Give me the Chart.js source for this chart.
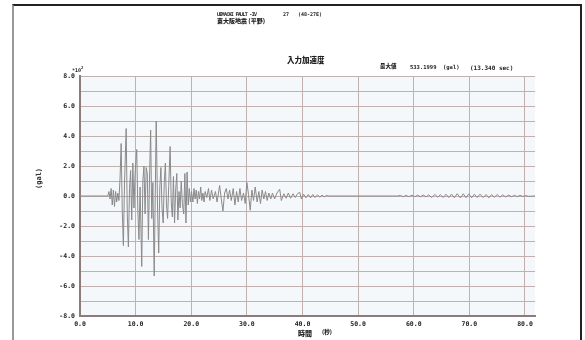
<!DOCTYPE html>
<html>
<head>
<meta charset="utf-8">
<script src="https://cdn.jsdelivr.net/npm/chart.js@4.4.1/dist/chart.umd.min.js"></script>
<style>
  html, body { margin: 0; padding: 0; background: #fff; }
  #wrap { position: relative; width: 585px; height: 340px; overflow: hidden; }
  #frame { position: absolute; left: 12px; top: 4px; width: 566px; height: 340px;
           border-top: 2px solid #222; border-left: 2px solid #999; border-right: 2px solid #222; }
  canvas { position: absolute; left: 0; top: 0; }
  .t { position: absolute; font-family: "DejaVu Sans Mono", "Liberation Mono", monospace;
       font-weight: bold; color: #222; white-space: pre; line-height: 1; }
  .cjk { font-family: "Noto Sans CJK JP", sans-serif; font-weight: 900; }
</style>
</head>
<body>
<div id="wrap">
  <div id="frame"></div>
  <canvas id="chart" width="585" height="340"></canvas>
  <div class="t" style="left:217px; top:12px; font-size:5px; letter-spacing:-0.7px;">UEMACHI FAULT -IV</div>
  <div class="t" style="left:283px; top:12px; font-size:5px;">27</div>
  <div class="t" style="left:298px; top:12px; font-size:5px;">(48-27E)</div>
  <div class="t cjk" style="left:217px; top:18px; font-size:6px;">東大阪地震 (平野)</div>
  <div class="t cjk" style="left:287px; top:56px; font-size:7.5px;">入力加速度</div>
  <div class="t cjk" style="left:380px; top:64px; font-size:5.5px;">最大値</div>
  <div class="t" style="left:410px; top:65px; font-size:5.5px;">533.1999</div>
  <div class="t" style="left:443px; top:65px; font-size:5.5px;">(gal)</div>
  <div class="t" style="left:470px; top:65px; font-size:6px;">(13.340 sec)</div>
  <div class="t" style="left:72px; top:66px; font-size:5px;">*10<sup style="font-size:4px">2</sup></div>
  <div class="t" style="left:29px; top:175px; font-size:7px; transform:rotate(-90deg);">(gal)</div>
  <div class="t cjk" style="left:298px; top:330px; font-size:7px;">時間</div>
  <div class="t cjk" style="left:322px; top:330px; font-size:5.5px;">(秒)</div>
</div>
<script>
// input acceleration, x10^2 gal
const timeSec = [
  0, 5.0, 5.2, 5.4, 5.6, 5.8, 6.0, 6.2, 6.4, 6.6, 6.8, 7.0,
  7.2, 7.4, 7.6, 7.8, 8.0, 8.3, 8.5, 8.7, 8.9, 9.1, 9.3, 9.5, 9.7, 9.9,
  10.2, 10.4, 10.6, 10.8, 11.1, 11.3, 11.5, 11.7, 11.9, 12.1, 12.3, 12.5, 12.7, 12.9,
  13.1, 13.34, 13.7, 13.95, 14.15, 14.35, 14.55, 14.75, 14.95, 15.15, 15.35, 15.55, 15.75, 15.95,
  16.2, 16.4, 16.6, 16.8, 17.0, 17.2, 17.4, 17.6, 17.8, 18.0, 18.2, 18.4, 18.65, 18.85,
  19.05, 19.25, 19.45, 19.65, 19.85, 20.05, 20.3, 20.5, 20.7, 20.9, 21.1, 21.3, 21.5, 21.7,
  21.9, 22.1, 22.3, 22.5, 22.8, 23.1, 23.35, 23.65, 23.95, 24.35, 24.65, 25.1, 25.4, 25.7,
  26.0, 26.3, 26.6, 26.9, 27.2, 27.55, 27.85, 28.15, 28.45, 28.75, 29.05, 29.4, 29.7, 30.0,
  30.3, 30.6, 30.9, 31.2, 31.5, 31.85, 32.15, 32.45, 32.75, 33.05, 33.35, 33.65, 33.95, 34.3,
  34.6, 35.0, 35.4, 35.9, 36.2, 36.65, 37.05, 37.45, 37.85, 38.3, 38.7, 39.1, 39.5, 39.8,
  40.2, 40.6, 41.05, 41.45, 41.85, 42.25, 42.7, 43.1, 43.5, 43.9, 44.3, 44.7, 57.1,
  57.6, 58.1, 58.6, 59.1, 59.7, 60.2, 60.7, 61.2, 61.7, 62.2, 62.7, 63.2, 63.8, 64.3,
  64.8, 65.3, 65.8, 66.3, 66.8, 67.3, 67.8, 68.4, 68.9, 69.4, 69.9, 70.4, 70.9, 71.4,
  71.9, 72.5, 73.0, 73.5, 74.0, 74.5, 75.0, 75.5, 76.0, 76.5, 77.1, 77.6, 78.1, 78.6,
  79.1, 79.6, 80.1, 80.6, 81.8
];
const accel = [
  0, 0, 0.3, -0.2, 0.5, -0.6, 0.4, -0.7, 0.3, -0.4, 0.2, -0.3,
  1.2, 3.5, -1.0, -3.3, 0.8, 4.5, -1.2, -3.4, 0.5, 1.7, -1.6, 2.2, -0.8, 1.5,
  3.1, -1.0, -2.9, 0.6, -4.7, 1.0, 2.0, -1.2, 1.9, 1.5, -2.9, 1.2, 4.4, -1.5,
  0.9, -5.33, 5.0, -1.0, -3.8, 0.6, 1.9, -0.8, -1.8, 0.9, 2.2, -0.6, -1.5, 0.7,
  3.3, -0.4, -1.4, 1.3, -1.8, 0.4, 1.5, -1.6, 0.3, -0.8, 1.0, -0.5, -1.2, 1.5,
  -1.8, 1.6, -0.6, 0.5, -0.4, 0.3, -0.4, 0.5, -0.2, 0.4, -0.5, 0.3, -0.2, 0.6,
  -0.3, 0.2, -0.4, 0.3, -0.1, 0.5, -0.3, 0.4, -0.2, 0.3, -0.4, 0.7, -0.2, -1.0,
  0.2, 0.5, -0.2, 0.4, -0.3, 0.5, -0.6, 0.3, -0.4, 0.5, -0.3, 0.2, -0.5, 0.9,
  0.1, -0.95, 0.4, -0.3, 0.6, -0.4, 0.3, -0.5, 0.4, -0.2, 0.3, -0.3, 0.2, -0.2,
  0.2, -0.2, 0.2, 0.45, -0.3, 0.15, -0.15, 0.2, -0.15, 0.15, -0.1, 0.15, 0.25, -0.2,
  0.12, -0.12, 0.1, -0.12, 0.1, -0.1, 0.08, -0.08, 0.06, -0.06, 0.04, 0, 0,
  0.04, -0.05, 0.04, -0.04, 0.05, -0.05, 0.06, -0.05, 0.07, -0.06, 0.08, -0.1, 0.1, -0.08,
  0.09, -0.1, 0.12, -0.1, 0.13, -0.12, 0.15, -0.13, 0.15, -0.12, 0.14, -0.12, 0.12, -0.1,
  0.12, -0.1, 0.1, -0.12, 0.1, -0.08, 0.1, -0.08, 0.08, -0.06, 0.06, -0.05, 0.05, -0.04,
  0.04, -0.03, 0.03, -0.02, 0
];
const xTicks = [0, 10, 20, 30, 40, 50, 60, 70, 80];

const TICK_FONT = { family: "'DejaVu Sans Mono', 'Liberation Mono', monospace", size: 6.5, weight: 'bold' };
const GRID = '#c2b0b0';
const AXIS = '#8c7c7c';

// light tint behind the plot area
const plotBg = {
  id: 'plotBg',
  beforeDraw(chart) {
    const { ctx, chartArea: a } = chart;
    ctx.save();
    ctx.fillStyle = '#f5f8fb';
    ctx.fillRect(a.left, a.top, a.right - a.left, a.bottom - a.top);
    ctx.restore();
  }
};

new Chart(document.getElementById('chart'), {
  type: 'line',
  data: {
    datasets: [{
      data: timeSec.map((t, i) => ({ x: t, y: accel[i] })),
      borderColor: '#8a8a8a',
      borderWidth: 1,
      pointRadius: 0,
      tension: 0
    }]
  },
  options: {
    responsive: false,
    animation: false,
    devicePixelRatio: 1,
    layout: { padding: { left: 41, right: 50, top: 76, bottom: 0 } },
    plugins: { legend: { display: false }, tooltip: { enabled: false } },
    scales: {
      x: {
        type: 'linear', min: 0, max: 81.8,
        afterFit: (s) => { s.height = 24; },
        // axis runs a little past 80 s; ticks only every 10 s
        afterBuildTicks: (s) => { s.ticks = xTicks.map((v) => ({ value: v })); },
        ticks: { padding: 4, color: '#222', font: TICK_FONT, maxRotation: 0,
                 callback: (v) => v.toFixed(1) },
        grid: { color: GRID, lineWidth: 1, drawTicks: false },
        border: { color: AXIS, width: 2 }
      },
      y: {
        min: -8, max: 8,
        afterFit: (s) => { s.width = 39; },
        ticks: { stepSize: 1, padding: 5, color: '#222', font: TICK_FONT, autoSkip: false,
                 callback: (v) => (v % 2 === 0 ? v.toFixed(1) : '') },
        grid: { color: GRID, lineWidth: 1, drawTicks: false },
        border: { color: AXIS, width: 2 }
      }
    }
  },
  plugins: [plotBg]
});
</script>
</body>
</html>
